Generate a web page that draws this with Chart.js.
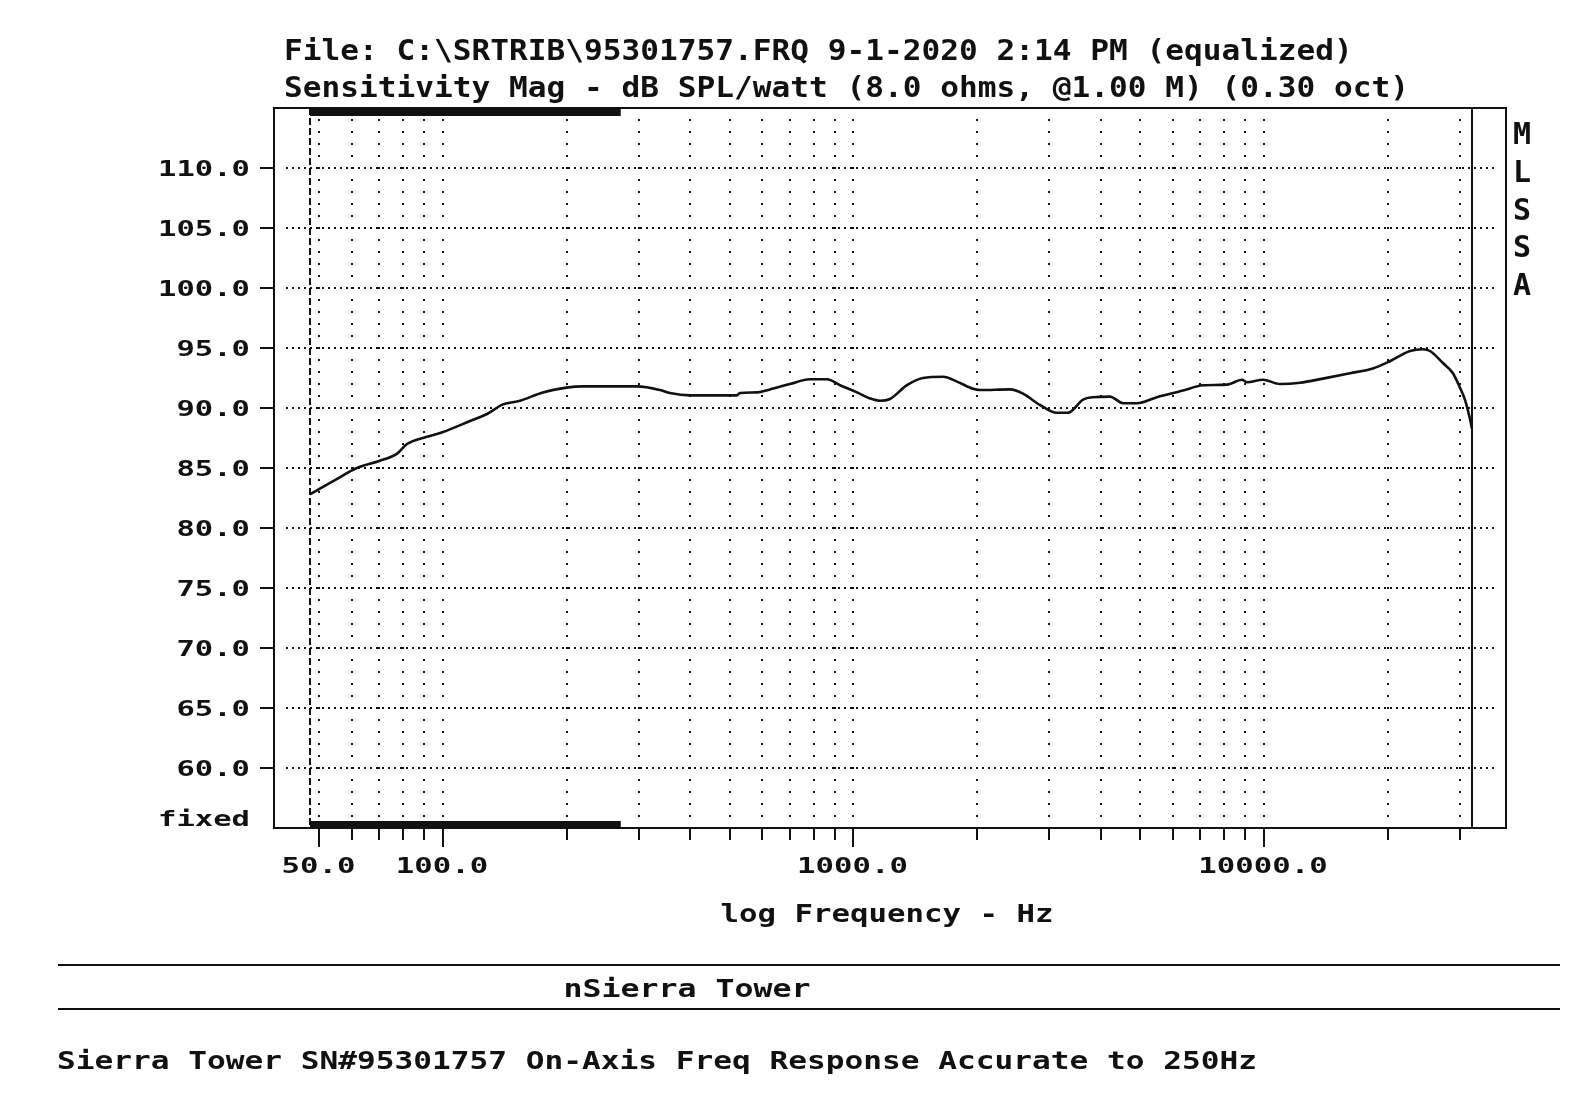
<!DOCTYPE html>
<html>
<head>
<meta charset="utf-8">
<title>Sierra Tower - Sensitivity Mag</title>
<script src="https://cdn.jsdelivr.net/npm/chart.js@4.4.1/dist/chart.umd.min.js"></script>
<style>
  html, body { margin: 0; padding: 0; background: #fff; }
  #wrap { width: 1572px; height: 1100px; position: relative; }
</style>
</head>
<body>
<div id="wrap"><canvas id="chart"></canvas></div>
<script>
const freqHz = [47.4, 55.2, 61.7, 70.2, 77.3, 81.7, 91.4, 100, 116, 128, 140, 154, 175, 200, 219,
  297, 338, 357, 400, 520, 529, 582, 626, 700, 783, 862, 927, 1020, 1097, 1160, 1227, 1350, 1477,
  1652, 1787, 1955, 2033, 2406, 2588, 2847, 3131, 3331, 3624, 3832, 4216, 4535, 4905, 5487, 6348,
  7103, 8124, 8840, 9090, 9945, 10940, 12240, 13920, 16200, 18430, 20270, 22680, 24400, 25380,
  27290, 28860, 30020, 30870, 31750, 32110];
const splDb = [82.8, 84.1, 85.0, 85.6, 86.2, 87.0, 87.6, 88.0, 88.9, 89.5, 90.3, 90.6, 91.3, 91.7, 91.8,
  91.8, 91.5, 91.25, 91.05, 91.05, 91.25, 91.3, 91.55, 92.0, 92.4, 92.4, 91.9, 91.3, 90.8, 90.6, 90.75, 91.9, 92.5,
  92.6, 92.2, 91.6, 91.5, 91.55, 91.2, 90.25, 89.6, 89.6, 90.7, 90.9, 90.95, 90.4, 90.4, 90.9, 91.45,
  91.9, 91.95, 92.35, 92.15, 92.35, 92.0, 92.1, 92.45, 92.9, 93.3, 93.9, 94.75, 94.9, 94.75,
  93.75, 92.9, 91.7, 90.7, 89.1, 88.3];

const yTickValues = [60, 65, 70, 75, 80, 85, 90, 95, 100, 105, 110];
const xLabelValues = [50, 100, 1000, 10000];
const xGridValues = [50, 60, 70, 80, 90, 100, 200, 300, 400, 500, 600, 700, 800, 900,
  1000, 2000, 3000, 4000, 5000, 6000, 7000, 8000, 9000, 10000, 20000, 30000];
const gateStartHz = 47.4;
const gateEndHz = 32110;
const accurateToHz = 271;

const titleLines = [
  "File: C:\\SRTRIB\\95301757.FRQ 9-1-2020 2:14 PM (equalized)",
  "Sensitivity Mag - dB SPL/watt (8.0 ohms, @1.00 M) (0.30 oct)"
];
const xTitle = "log Frequency - Hz";
const boxTitle = "nSierra Tower";
const footNote = "Sierra Tower SN#95301757 On-Axis Freq Response Accurate to 250Hz";
const sideLetters = ["M", "L", "S", "S", "A"];

const INK = "#111";

function putText(ctx, str, x, y, size, advance, align) {
  ctx.save();
  ctx.font = "bold " + size + "px 'DejaVu Sans Mono'";
  const natural = ctx.measureText("M").width;
  const sx = advance ? advance / natural : 1;
  const w = ctx.measureText(str).width * sx;
  let left = x;
  if (align === "center") left = x - w / 2;
  else if (align === "right") left = x - w;
  ctx.translate(left, y);
  ctx.scale(sx, 1);
  ctx.textAlign = "left";
  ctx.textBaseline = "alphabetic";
  ctx.fillStyle = INK;
  ctx.fillText(str, 0, 0);
  ctx.restore();
}

const mlssaPlot = {
  id: "mlssaPlot",
  beforeDatasetsDraw(chart) {
    const ctx = chart.ctx;
    const area = chart.chartArea;
    const xs = chart.scales.x;
    const ys = chart.scales.y;
    ctx.save();
    ctx.fillStyle = INK;

    // horizontal dotted lines every 5 dB
    yTickValues.forEach(v => {
      const py = Math.round(ys.getPixelForValue(v));
      for (let px = area.left + 12; px <= area.right - 10; px += 6) {
        ctx.fillRect(px, py - 1, 2, 2);
      }
    });

    // vertical dotted lines, one dot per dB
    xGridValues.forEach(f => {
      const px = Math.round(xs.getPixelForValue(f));
      for (let d = 56; d <= 114; d++) {
        const py = Math.round(ys.getPixelForValue(d));
        ctx.fillRect(px - 1, py - 1, 2, 2);
      }
    });

    // gate markers
    ctx.strokeStyle = INK;
    ctx.lineWidth = 2;
    const gx = Math.round(xs.getPixelForValue(gateStartHz));
    ctx.setLineDash([7, 3]);
    ctx.beginPath();
    ctx.moveTo(gx, area.top);
    ctx.lineTo(gx, area.bottom);
    ctx.stroke();
    ctx.setLineDash([]);
    const ex = Math.round(xs.getPixelForValue(gateEndHz));
    ctx.beginPath();
    ctx.moveTo(ex, area.top);
    ctx.lineTo(ex, area.bottom);
    ctx.stroke();

    // accuracy bars top and bottom
    const ax = xs.getPixelForValue(accurateToHz);
    ctx.fillRect(gx, area.top, ax - gx, 8);
    ctx.fillRect(gx, area.bottom - 7, ax - gx, 7);
    ctx.restore();
  },
  afterDraw(chart) {
    const ctx = chart.ctx;
    const area = chart.chartArea;
    const xs = chart.scales.x;
    const ys = chart.scales.y;
    ctx.save();
    ctx.strokeStyle = INK;
    ctx.lineWidth = 2;
    ctx.strokeRect(area.left, area.top, area.right - area.left, area.bottom - area.top);

    // y ticks and labels
    yTickValues.forEach(v => {
      const py = Math.round(ys.getPixelForValue(v));
      ctx.beginPath();
      ctx.moveTo(area.left - 14, py);
      ctx.lineTo(area.left, py);
      ctx.stroke();
      putText(ctx, v.toFixed(1), 250, py + 8, 21, 18.4, "right");
    });
    putText(ctx, "fixed", 250, area.bottom - 2, 21, 18.4, "right");

    // x ticks and labels
    xGridValues.forEach(f => {
      const px = Math.round(xs.getPixelForValue(f));
      const major = xLabelValues.includes(f);
      ctx.beginPath();
      ctx.moveTo(px, area.bottom);
      ctx.lineTo(px, area.bottom + (major ? 19 : 12));
      ctx.stroke();
    });
    xLabelValues.forEach(f => {
      const px = xs.getPixelForValue(f);
      putText(ctx, f.toFixed(1), px - 1, 873, 22, 18.5, "center");
    });

    // titles and captions
    putText(ctx, titleLines[0], 284, 60, 28, 18.75, "left");
    putText(ctx, titleLines[1], 284, 97, 28, 18.75, "left");
    putText(ctx, xTitle, 887, 922, 24, 18.5, "center");
    sideLetters.forEach((ch, i) => {
      putText(ctx, ch, 1522, 144 + i * 37.8, 30, 0, "center");
    });

    ctx.lineWidth = 2;
    [965, 1009].forEach(py => {
      ctx.beginPath();
      ctx.moveTo(58, py);
      ctx.lineTo(1560, py);
      ctx.stroke();
    });
    putText(ctx, boxTitle, 687, 997, 24, 19, "center");
    putText(ctx, footNote, 57, 1069, 24, 18.75, "left");
    ctx.restore();
  }
};

new Chart(document.getElementById("chart"), {
  type: "line",
  data: {
    datasets: [{
      data: freqHz.map((f, i) => ({ x: f, y: splDb[i] })),
      borderColor: INK,
      borderWidth: 2.6,
      pointRadius: 0,
      cubicInterpolationMode: "monotone",
      fill: false
    }]
  },
  options: {
    responsive: true,
    maintainAspectRatio: false,
    animation: false,
    devicePixelRatio: 1,
    layout: { padding: { left: 274, right: 66, top: 108, bottom: 272 } },
    scales: {
      x: { type: "logarithmic", min: 38.75, max: 38870, display: false },
      y: { type: "linear", min: 55, max: 115, display: false }
    },
    plugins: {
      legend: { display: false },
      tooltip: { enabled: false }
    }
  },
  plugins: [mlssaPlot]
});
</script>
</body>
</html>
